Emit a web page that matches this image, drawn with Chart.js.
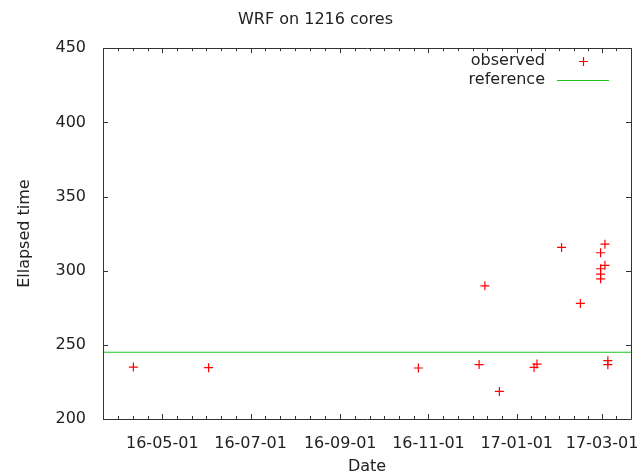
<!DOCTYPE html>
<html>
<head>
<meta charset="utf-8">
<title>WRF on 1216 cores</title>
<script src="https://cdn.jsdelivr.net/npm/chart.js@4.4.1/dist/chart.umd.min.js"></script>
<style>
  html, body { margin: 0; padding: 0; background: #fff; }
  canvas { display: block; }
</style>
</head>
<body>
<canvas id="chart" width="644" height="476"></canvas>
<script>
// observed runs (date of run, elapsed time)
const obsDates = [
    "2016-04-11", "2016-06-02", "2016-10-25", "2016-12-06", "2016-12-10",
    "2016-12-20", "2017-01-13", "2017-01-15", "2017-02-01", "2017-02-14",
    "2017-02-28", "2017-02-28", "2017-02-28", "2017-02-28",
    "2017-03-03", "2017-03-03", "2017-03-05", "2017-03-05"
];
const obsTimes = [
    235, 234.6, 234.4, 236.7, 289.8,
    218.6, 234.8, 237, 315.7, 277.9,
    312.1, 301.3, 297.7, 294.5,
    317.9, 303.6, 239.3, 236.6
];
const referenceTime = 245;

const dateRange = ["2016-03-21", "2017-03-21"];
const xTickDates = ["2016-05-01", "2016-07-01", "2016-09-01", "2016-11-01", "2017-01-01", "2017-03-01"];
const xTickLabels = ["16-05-01", "16-07-01", "16-09-01", "16-11-01", "17-01-01", "17-03-01"];
const yTicks = [200, 250, 300, 350, 400, 450];

const TEXT = "#222";
const AXIS = "#333";

// date string -> day number
const day = s => Date.UTC(+s.slice(0, 4), +s.slice(5, 7) - 1, +s.slice(8, 10)) / 86400000;

const xMin = day(dateRange[0]);
const xMax = day(dateRange[1]);

// border + inward ticks, mirrored like gnuplot
const frameTicks = {
    id: "frameTicks",
    afterDatasetsDraw(chart) {
        const { ctx, chartArea: a, scales: { x, y } } = chart;
        const px = v => Math.round(v) + 0.5;
        ctx.save();
        ctx.strokeStyle = AXIS;
        ctx.lineWidth = 1;
        ctx.beginPath();
        ctx.rect(px(a.left), px(a.top), Math.round(a.right - a.left), Math.round(a.bottom - a.top));

        const major = xTickDates.map(day);
        const minor = [];
        for (let i = 0; i < major.length - 1; i++) {
            const step = (major[i + 1] - major[i]) / 6;
            for (let k = 1; k < 6; k++) minor.push(major[i] + k * step);
        }
        let st = (major[1] - major[0]) / 6;
        for (let v = major[0] - st; v > xMin; v -= st) minor.push(v);
        st = (major[major.length - 1] - major[major.length - 2]) / 6;
        for (let v = major[major.length - 1] + st; v < xMax; v += st) minor.push(v);

        const xTick = (v, len) => {
            const p = px(x.getPixelForValue(v));
            ctx.moveTo(p, a.bottom); ctx.lineTo(p, a.bottom - len);
            ctx.moveTo(p, a.top); ctx.lineTo(p, a.top + len);
        };
        major.forEach(v => xTick(v, 5));
        minor.forEach(v => xTick(v, 3));

        yTicks.forEach(v => {
            const p = px(y.getPixelForValue(v));
            ctx.moveTo(a.left, p); ctx.lineTo(a.left + 5, p);
            ctx.moveTo(a.right, p); ctx.lineTo(a.right - 5, p);
        });
        ctx.stroke();
        ctx.restore();
    }
};

// gnuplot style key: text right aligned, sample on the right
const keyBox = {
    id: "keyBox",
    afterDraw(chart) {
        const { ctx } = chart;
        const rows = [61, 80];
        ctx.save();
        ctx.font = "16px 'DejaVu Sans'";
        ctx.fillStyle = TEXT;
        ctx.textAlign = "right";
        ctx.textBaseline = "middle";
        chart.data.datasets.forEach((ds, i) => {
            ctx.fillText(ds.label, 545, rows[i]);
            ctx.strokeStyle = ds.borderColor;
            ctx.lineWidth = ds.borderWidth;
            ctx.beginPath();
            if (ds.pointStyle === "cross") {
                ctx.moveTo(579, rows[i] + 0.5); ctx.lineTo(588, rows[i] + 0.5);
                ctx.moveTo(583.5, rows[i] - 4); ctx.lineTo(583.5, rows[i] + 5);
            } else {
                ctx.moveTo(557, rows[i] + 0.5); ctx.lineTo(609, rows[i] + 0.5);
            }
            ctx.stroke();
        });
        ctx.restore();
    }
};

Chart.defaults.font.family = "'DejaVu Sans', sans-serif";
Chart.defaults.font.size = 16;
Chart.defaults.color = TEXT;

new Chart(document.getElementById("chart"), {
    type: "scatter",
    data: {
        datasets: [{
            label: "observed",
            data: obsDates.map((d, i) => ({ x: day(d), y: obsTimes[i] })),
            pointStyle: "cross",
            pointRadius: 4.5,
            borderColor: "#ff0000",
            backgroundColor: "#ff0000",
            borderWidth: 1.2
        }, {
            label: "reference",
            type: "line",
            data: [{ x: xMin, y: referenceTime }, { x: xMax, y: referenceTime }],
            borderColor: "#22c022",
            borderWidth: 1.2,
            pointRadius: 0
        }]
    },
    options: {
        responsive: false,
        animation: false,
        layout: { padding: { left: 0, right: 13, top: 0, bottom: 0 } },
        plugins: {
            legend: { display: false },
            tooltip: { enabled: false },
            title: {
                display: true,
                text: "WRF on 1216 cores",
                color: TEXT,
                font: { size: 16, weight: "normal" },
                padding: { top: 10, bottom: 19 }
            }
        },
        scales: {
            x: {
                type: "linear",
                min: xMin,
                max: xMax,
                afterBuildTicks: s => { s.ticks = xTickDates.map(d => ({ value: day(d) })); },
                afterFit: s => { s.height = 57; s.paddingLeft = 0; s.paddingRight = 0; },
                ticks: {
                    callback: (v, i) => xTickLabels[i],
                    autoSkip: false,
                    maxRotation: 0,
                    padding: 7
                },
                grid: { display: false },
                border: { display: false },
                title: { display: true, text: "Date", padding: { top: 0, bottom: 0 } }
            },
            y: {
                min: 200,
                max: 450,
                afterBuildTicks: s => { s.ticks = yTicks.map(v => ({ value: v })); },
                afterFit: s => { s.width = 103; },
                ticks: { padding: 9 },
                grid: { display: false },
                border: { display: false },
                title: { display: true, text: "Ellapsed time", padding: { top: 15, bottom: 0 } }
            }
        }
    },
    plugins: [frameTicks, keyBox]
});
</script>
</body>
</html>
